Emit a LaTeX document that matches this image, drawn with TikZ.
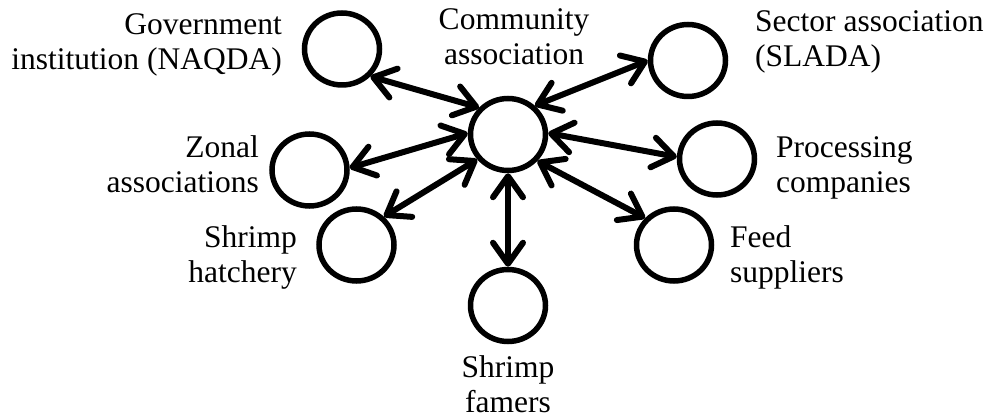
\documentclass[tikz,border=0pt]{standalone}
\usepackage{fontspec}
\setmainfont{Liberation Serif}
\usetikzlibrary{arrows.meta,shapes.geometric}
\tikzset{mybarb/.tip={Straight Barb[length=21pt,width=30pt,line cap=round,line join=round]}}
\begin{document}
\begin{tikzpicture}[x=1pt,y=-1pt,
  actor/.style={draw,ellipse,line width=5.5pt,minimum width=75pt,minimum height=72pt,inner sep=0pt},
  lbl/.style={font=\fontsize{31.5pt}{35pt}\selectfont,inner sep=0pt},
  link/.style={line width=6pt,line cap=round,mybarb-mybarb}]
\useasboundingbox (0,0) rectangle (988,419);
\node[actor] (c) at (508,134.5) {};
\node[actor] (naqda) at (342,49) {};
\node[actor] (slada) at (688,60.5) {};
\node[actor] (zonal) at (309.5,170) {};
\node[actor] (proc) at (717,159) {};
\node[actor] (hatch) at (356.5,245) {};
\node[actor] (feed) at (674,245) {};
\node[actor] (farm) at (508,305.5) {};

\node[lbl,anchor=base east,align=right] (tnaqda) at (282,70) {Government\\institution (NAQDA)};
\node[lbl,anchor=base,align=center] (tc) at (514,65) {Community\\association};
\node[lbl,anchor=base west,align=left] (tslada) at (755,67) {Sector association\\(SLADA)};
\node[lbl,anchor=base east,align=right] (tzonal) at (259,193) {Zonal\\associations};
\node[lbl,anchor=base west,align=left] (tproc) at (776,193) {Processing\\companies};
\node[lbl,anchor=base east,align=right] (thatch) at (297,283) {Shrimp\\hatchery};
\node[lbl,anchor=base west,align=left] (tfeed) at (730,283) {Feed\\suppliers};
\node[lbl,anchor=base,align=center] (tfarm) at (508,413) {Shrimp\\famers};

\draw[link] (naqda.-44) -- (c.137.5);
\draw[link] (slada.180) -- (c.47);
\draw[link] (zonal.3) -- (c.178);
\draw[link] (hatch.46.5) -- (c.219.5);
\draw[link] (farm.90) -- (c.270);
\draw[link] (proc.177) -- (c.2);
\draw[link] (feed.137) -- (c.-42.5);
\end{tikzpicture}
\end{document}
